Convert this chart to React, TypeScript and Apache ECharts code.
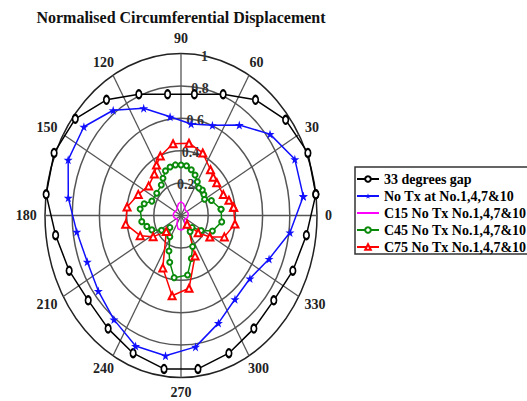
import React, { useEffect, useRef } from 'react';
import * as echarts from 'echarts';

const titleText = 'Normalised Circumferential Displacement';
const seriesNames = [
  '33 degrees gap',
  'No Tx at No.1,4,7&10',
  'C15 No Tx No.1,4,7&10',
  'C45 No Tx No.1,4,7&10',
  'C75 No Tx No.1,4,7&10',
];

// angles (deg) shared by the two outer curves
const outerAngles = [7.5, 22.5, 37.5, 52.5, 67.5, 82.5, 97.5, 112.5, 127.5, 142.5, 157.5, 172.5,
  187.5, 202.5, 217.5, 232.5, 247.5, 262.5, 277.5, 292.5, 307.5, 322.5, 337.5, 352.5];
const gapR = [1.0, 1.01, 0.97, 0.9, 0.81, 0.755, 0.755, 0.81, 0.9, 0.98, 1.01, 1.0,
  0.93, 0.89, 0.86, 0.88, 0.92, 0.955, 0.955, 0.92, 0.88, 0.86, 0.89, 0.93];
const noTxR = [0.907, 0.906, 0.825, 0.704, 0.603, 0.57, 0.615, 0.717, 0.819, 0.9, 0.898, 0.836,
  0.773, 0.746, 0.766, 0.81, 0.872, 0.873, 0.818, 0.719, 0.652, 0.639, 0.701, 0.808];

const c15Angles = [0, 15, 30, 45, 60, 75, 90, 105, 120, 135, 150, 165, 180, 195, 210, 225, 240, 255, 270, 285, 300, 315, 330, 345];
const c15R = [0.052, 0.055, 0.05, 0.045, 0.055, 0.075, 0.085, 0.075, 0.055, 0.045, 0.05, 0.056,
  0.057, 0.052, 0.04, 0.035, 0.06, 0.085, 0.09, 0.085, 0.06, 0.035, 0.04, 0.05];

const c45Angles = [7.5, 22.5, 30, 37.5, 45, 52.5, 60, 67.5, 75, 82.5, 90, 97.5, 105, 112.5, 120, 127.5,
  142.5, 157.5, 165, 172.5, 187.5, 195, 202.5, 212.5, 222, 238, 248, 254, 262.5, 277.5, 286, 294, 304,
  318, 328, 337.5, 352.5];
const c45R = [0.297, 0.242, 0.2, 0.212, 0.222, 0.215, 0.24, 0.27, 0.292, 0.31, 0.312, 0.315, 0.31, 0.298, 0.265, 0.238,
  0.225, 0.232, 0.28, 0.303, 0.291, 0.26, 0.232, 0.17, 0.11, 0.155, 0.236, 0.3, 0.387, 0.37, 0.276, 0.21, 0.12,
  0.11, 0.175, 0.25, 0.302];

const c75Angles = [7.5, 15, 22.5, 37.5, 45, 52.5, 67.5, 82.5, 97.5, 112.5, 120, 127.5, 142.5, 157.5, 172.5,
  187.5, 202.5, 212.5, 222.5, 247.5, 262.5, 277.5, 292.5, 310, 320, 328, 337.5, 352.5];
const c75R = [0.39, 0.365, 0.337, 0.332, 0.335, 0.356, 0.418, 0.45, 0.447, 0.398, 0.36, 0.322, 0.3, 0.34, 0.4,
  0.41, 0.325, 0.243, 0.147, 0.35, 0.5, 0.453, 0.27, 0.07, 0.165, 0.25, 0.345, 0.4];

const ringValues = [0.2, 0.4, 0.6, 0.8, 1];
const ringLabels = ['0.2', '0.4', '0.6', '0.8', '1'];
const spokeAngles = [0, 30, 60, 90, 120, 150, 180, 210, 240, 270, 300, 330];
const angleLabels = ['0', '30', '60', '90', '120', '150', '180', '210', '240', '270', '300', '330'];

const SERIF = '"Liberation Serif", "Times New Roman", serif';
const FONT = 'bold 14px ' + SERIF;
const rad = (a: number) => (a * Math.PI) / 180;

const toXY = (angles: number[], rs: number[]) => {
  const pts = angles.map((a, i) => [rs[i] * Math.cos(rad(a)), rs[i] * Math.sin(rad(a))]);
  pts.push(pts[0]);
  return pts;
};

const starPath = 'path://M50,0 L61,35 L98,35 L68,57 L79,91 L50,70 L21,91 L32,57 L2,35 L39,35 Z';

export default function App() {
  const ref = useRef<HTMLDivElement>(null);
  useEffect(() => {
    if (!ref.current) return;
    const chart = echarts.init(ref.current, undefined, { renderer: 'svg' });
    const option: any = {
      animation: false,
      backgroundColor: '#fff',
      graphic: [
        {
          type: 'text',
          x: 181,
          y: 17,
          style: { text: titleText, font: 'bold 16px ' + SERIF, fill: '#111', align: 'center', verticalAlign: 'middle' },
        },
      ],
      grid: { left: 45, top: 53.5, width: 272, height: 324 },
      xAxis: { type: 'value', min: -1, max: 1, show: false },
      yAxis: { type: 'value', min: -1, max: 1, show: false },
      legend: {
        data: [
          { name: seriesNames[0] },
          { name: seriesNames[1] },
          { name: seriesNames[2], itemStyle: { opacity: 0 } },
          { name: seriesNames[3] },
          { name: seriesNames[4] },
        ],
        orient: 'vertical',
        left: 355,
        top: 167,
        padding: [5, 6, 0, 1],
        itemWidth: 22,
        itemHeight: 7,
        itemGap: 3,
        borderColor: '#333',
        borderWidth: 1.5,
        textStyle: { color: '#000', fontFamily: SERIF, fontWeight: 'bold', fontSize: 14 },
      },
      series: [
        {
          type: 'custom',
          name: 'rings',
          silent: true,
          z: 1,
          data: ringValues.map((v) => [v, 0]),
          renderItem: (params: any, api: any) => {
            const r = api.value(0);
            const c = api.coord([0, 0]);
            const s = api.size([r, r]);
            return {
              type: 'ellipse',
              shape: { cx: c[0], cy: c[1], rx: s[0], ry: s[1] },
              style: { fill: 'none', stroke: r >= 1 ? '#222' : '#555', lineWidth: 1.5 },
            };
          },
        },
        {
          type: 'custom',
          name: 'spokes',
          silent: true,
          z: 1,
          data: spokeAngles.map((a) => [a, 0]),
          renderItem: (params: any, api: any) => {
            const a = rad(api.value(0));
            const c = api.coord([0, 0]);
            const e = api.coord([Math.cos(a), Math.sin(a)]);
            return {
              type: 'line',
              shape: { x1: c[0], y1: c[1], x2: e[0], y2: e[1] },
              style: { stroke: '#555', lineWidth: 1.3 },
            };
          },
        },
        {
          type: 'custom',
          name: 'radialLabels',
          silent: true,
          z: 1,
          data: ringValues.map((v) => [v, 0]),
          renderItem: (params: any, api: any) => {
            const v = api.value(0);
            const p = api.coord([v * Math.cos(rad(80)), v * Math.sin(rad(80))]);
            return {
              type: 'text',
              x: p[0],
              y: p[1] + 1,
              style: { text: ringLabels[params.dataIndex], font: FONT, fill: '#333', align: 'center', verticalAlign: 'middle' },
            };
          },
        },
        {
          type: 'custom',
          name: 'angleLabels',
          silent: true,
          z: 1,
          data: spokeAngles.map((a) => [a, 0]),
          renderItem: (params: any, api: any) => {
            const deg = api.value(0);
            const a = rad(deg);
            const txt = angleLabels[params.dataIndex];
            const p = api.coord([Math.cos(a), Math.sin(a)]);
            const halfW = txt.length * 3.6;
            return {
              type: 'text',
              x: p[0] + Math.cos(a) * (8 + halfW),
              y: p[1] - Math.sin(a) * 15,
              style: { text: txt, font: FONT, fill: '#222', align: 'center', verticalAlign: 'middle' },
            };
          },
        },
        {
          type: 'line',
          name: seriesNames[0],
          z: 3,
          data: toXY(outerAngles, gapR),
          symbol: 'emptyCircle',
          symbolSize: [5.5, 8],
          color: '#000',
          itemStyle: { color: '#000', borderWidth: 1.2 },
          lineStyle: { color: '#000', width: 1.5 },
        },
        {
          type: 'line',
          name: seriesNames[1],
          z: 3,
          data: toXY(outerAngles, noTxR),
          symbol: starPath,
          symbolSize: 9,
          color: '#1010ff',
          itemStyle: { color: '#1010ff' },
          lineStyle: { color: '#1010ff', width: 1.5 },
        },
        {
          type: 'line',
          name: seriesNames[2],
          z: 3,
          data: toXY(c15Angles, c15R),
          showSymbol: false,
          color: '#ff00ff',
          itemStyle: { color: '#ff00ff' },
          lineStyle: { color: '#ff00ff', width: 1.5 },
        },
        {
          type: 'line',
          name: seriesNames[3],
          z: 3,
          data: toXY(c45Angles, c45R),
          symbol: 'emptyCircle',
          symbolSize: 5,
          color: '#0a8a0a',
          itemStyle: { color: '#0a8a0a', borderWidth: 1.5 },
          lineStyle: { color: '#0a8a0a', width: 1.5 },
        },
        {
          type: 'line',
          name: seriesNames[4],
          z: 3,
          data: toXY(c75Angles, c75R),
          symbol: 'emptyTriangle',
          symbolSize: 7,
          color: '#ff0000',
          itemStyle: { color: '#ff0000', borderWidth: 1.2 },
          lineStyle: { color: '#ff0000', width: 1.5 },
        },
      ],
    };
    chart.setOption(option);
    return () => chart.dispose();
  }, []);
  return <div ref={ref} style={{ position: 'fixed', left: 0, top: 0, width: 527, height: 401 }} />;
}
